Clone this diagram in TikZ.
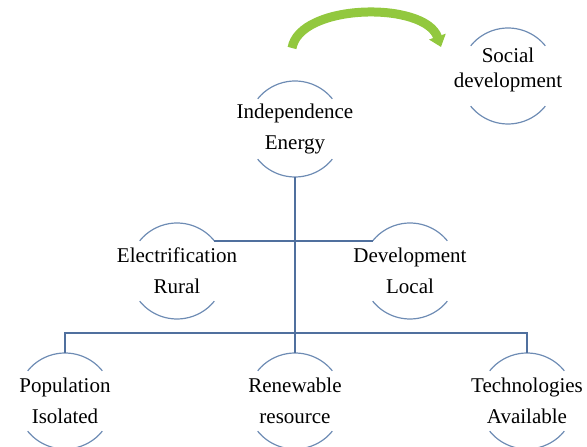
\documentclass[tikz,border=0pt]{standalone}
\usepackage{fontspec}
\setmainfont{Liberation Serif}
\usetikzlibrary{arrows.meta}
\definecolor{arccol}{RGB}{110,140,180}
\definecolor{linecol}{RGB}{80,112,158}
\definecolor{arrowgreen}{RGB}{146,200,62}
\tikzset{
  lbl/.style={align=center, font=\fontsize{21}{31}\selectfont, inner sep=0pt},
  conn/.style={draw=linecol, line width=2pt},
  ring/.style={draw=arccol, line width=1.2pt},
}
\newcommand\ringarcs[2]{%
  \draw[ring] (#1) ++(39:#2) arc[start angle=39,end angle=141,radius=#2];
  \draw[ring] (#1) ++(219:#2) arc[start angle=219,end angle=321,radius=#2];
}
\begin{document}
\begin{tikzpicture}[x=1pt,y=1pt]
\useasboundingbox (0,0) rectangle (587,447);
% ring centres
\coordinate (ieC) at (295,318);
\coordinate (sdC) at (508,371);
\coordinate (elC) at (177,176);
\coordinate (dvC) at (410,176);
\coordinate (popC) at (65,46);
\coordinate (renC) at (295,46);
\coordinate (techC) at (527,46);
% labels
\node[lbl] (ie) at (ieC) {Independence\\Energy};
\node[lbl, font=\fontsize{21}{25}\selectfont] (sd) at (508,377.5) {Social\\development};
\node[lbl] (el) at (elC) {Electrification\\Rural};
\node[lbl] (dv) at (dvC) {Development\\Local};
\node[lbl] (pop) at (popC) {Population\\Isolated};
\node[lbl] (ren) at (renC) {Renewable\\resource};
\node[lbl] (tech) at (techC) {Technologies\\Available};
% rings
\ringarcs{ieC}{48}
\ringarcs{sdC}{48}
\ringarcs{elC}{48}
\ringarcs{dvC}{48}
\ringarcs{popC}{48}
\ringarcs{renC}{48}
\ringarcs{techC}{48}
% connectors
\draw[conn] ([yshift=-48]ieC) -- ([yshift=48]renC);
\draw[conn] ([shift={(39:48)}]elC) -- ([shift={(141:48)}]dvC);
\draw[conn] ([yshift=48]popC) -- ++(0,20) -| ([yshift=48]techC);
% green arrow
\coordinate (ga) at (292,399);
\coordinate (gb) at (441,400);
\draw[line width=9pt, arrowgreen, -{Triangle[width=17pt,length=11pt]}]
  (ga) .. controls (300,444) and (425,446) .. (gb);
\end{tikzpicture}
\end{document}
